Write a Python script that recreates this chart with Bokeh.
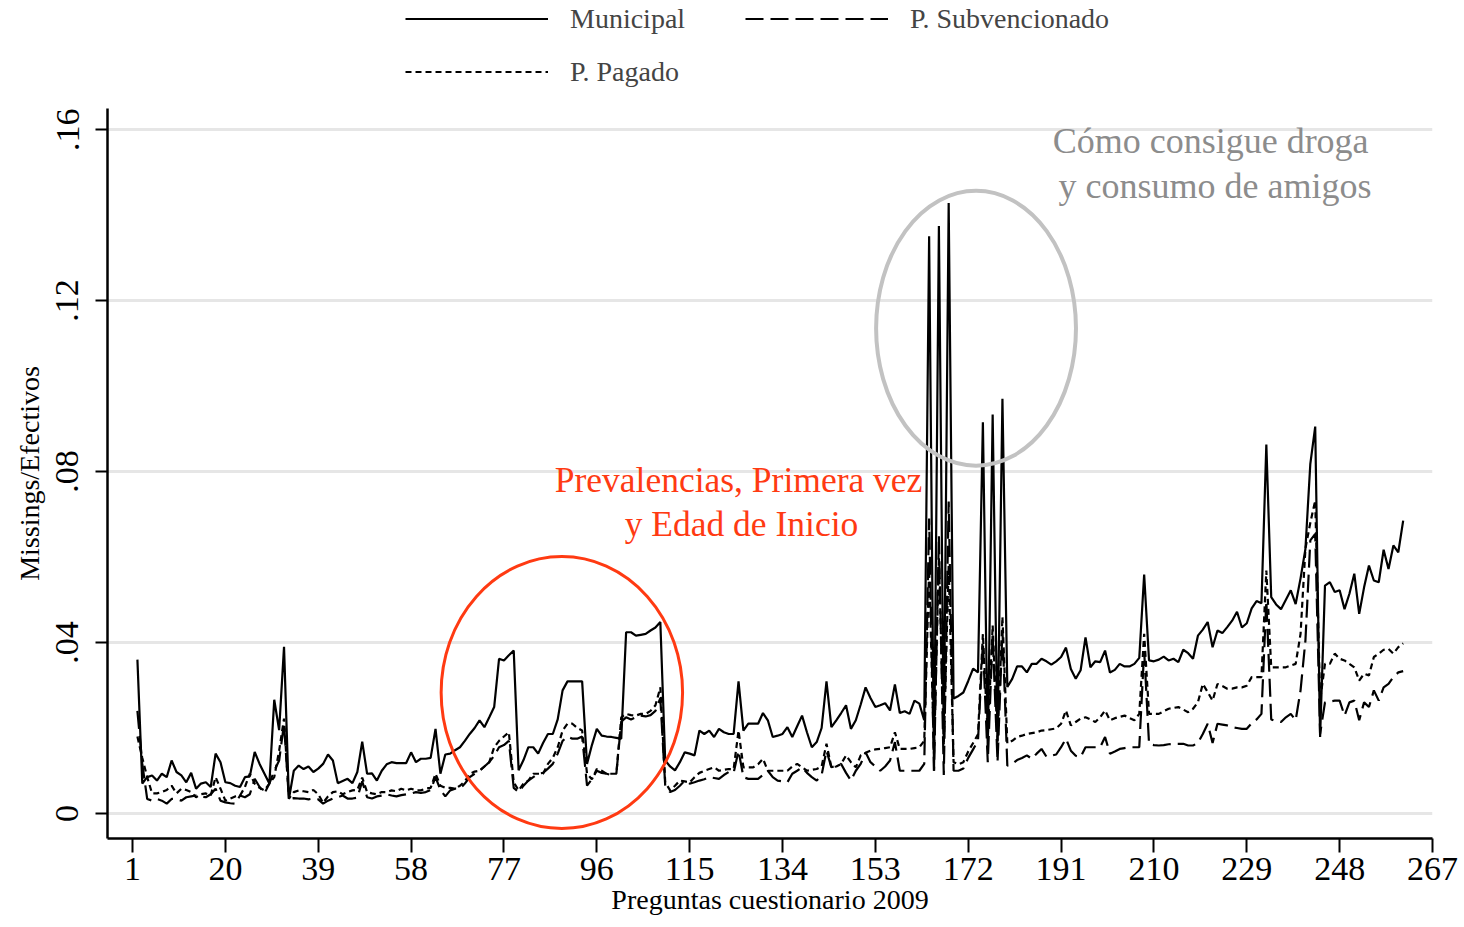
from bokeh.plotting import figure
from bokeh.layouts import column
from bokeh.models import Range1d, FixedTicker, Legend, LegendItem
from bokeh.core.properties import value
from bokeh.embed import file_html
from bokeh.resources import INLINE

# ---------------- data (values in thousandths: 36 -> 0.036) ----------------
preguntas = list(range(2, 262))

municipal_mil = [
    36, 7, 8.5, 8.9, 7.7, 9.3, 8.5, 12.4, 9.7, 8.9,
    7.3, 9.5, 5.8, 7, 7.3, 6.2, 14, 12, 7.3, 7.1,
    6.5, 6.2, 8.5, 8.7, 14.4, 11.6, 9.3, 7, 26.6, 19.5,
    39, 3.4, 10, 11.2, 10.4, 11, 9.7, 10.5, 11.6, 13.8,
    12.4, 7.1, 7.6, 8.1, 7.1, 9.7, 16.8, 9.3, 9.4, 7.7,
    10, 11.5, 12, 11.8, 11.8, 11.8, 14.3, 12, 12.8, 12.8,
    13, 19.8, 9.3, 13.8, 14, 14.8, 15.5, 17, 18.6, 20,
    21.8, 20.2, 22.5, 24.9, 36.2, 35.8, 37, 38.1, 10.1, 12.5,
    15.5, 15.5, 14, 16.5, 18.6, 18.6, 22, 28.8, 30.9, 30.9,
    30.9, 30.9, 11.6, 16, 19.8, 18.2, 18, 17.9, 17.7, 17.5,
    42.4, 42.4, 41.6, 41.8, 42, 42.8, 43.5, 44.8, 12.4, 11,
    10.1, 12, 14.3, 14, 13.6, 19.4, 18.6, 19.4, 17.9, 19.8,
    19, 18.6, 18.6, 30.9, 19.4, 21, 21, 21, 23.5, 21.8,
    17.9, 18.2, 18.6, 20.2, 17.9, 20.4, 22.9, 19, 15.5, 16.7,
    20, 30.9, 20.2, 21.8, 23.5, 25.3, 19.8, 21.8, 25.5, 29.5,
    27, 24.9, 25.3, 25.8, 24.1, 30.2, 23.5, 23.9, 23.3, 26.4,
    25.7, 21.8, 135, 10, 137.4, 17, 142.8, 26.9, 27.5, 28.3,
    31, 33.9, 33, 91.5, 15, 93.3, 16.8, 97, 29.6, 31.5,
    34.4, 34.4, 33, 35, 35, 36.2, 35.6, 34.8, 35.6, 36.6,
    38.8, 33.8, 31.5, 33.5, 41.2, 34.2, 35.6, 35.4, 38.1, 33,
    33.6, 35, 34.4, 34.4, 35, 36.4, 55.9, 35.8, 35.6, 36,
    36.7, 35.8, 36.2, 35.4, 38.3, 37.5, 36.2, 41.6, 43, 44.8,
    38.9, 42.8, 42.2, 43.6, 45.1, 47.2, 43.5, 44.5, 48, 49.7,
    49.2, 86.3, 50.6, 48.9, 47.8, 50, 52.2, 49, 55, 61.9,
    81.8, 90.5, 17.9, 53.3, 54.1, 51.8, 52.2, 47.8, 51.4, 56.1,
    46.7, 52.9, 58, 54.5, 54.1, 61.7, 57.2, 62.7, 61.1, 68.5,
]

subvencionado_mil = [
    24, 11.6, 3.4, 3, 3.4, 3, 2.3, 3.4, 3.4, 3,
    3.8, 4, 4.2, 4, 3.8, 4.5, 5.8, 3, 2.6, 2.4,
    2.3, 4.2, 3.8, 4.5, 8.1, 6.2, 4.7, 7, 10, 12.4,
    21, 3.4, 3.6, 3.5, 3.5, 3.3, 3.5, 3.3, 2.3, 3,
    3.5, 3.8, 4.2, 3.5, 3.5, 3.7, 7.5, 3.8, 3.5, 4,
    4.2, 4.5, 4.2, 4, 4.3, 4.5, 4.7, 5, 4.8, 5,
    5.5, 8.5, 5.5, 4, 5.4, 5.8, 5.8, 7, 8.5, 9.3,
    10, 11, 12, 13.5, 15.5, 16, 17, 6, 5, 6.5,
    7.7, 8.5, 9.3, 9.5, 10.5, 11.6, 14, 17, 18, 17.5,
    17.5, 18, 6.5, 8, 10, 9.5, 9.3, 9, 9.3, 21.5,
    22.5, 22, 22.5, 22.9, 22.7, 23, 24, 27, 6.5, 5,
    5.5, 6.5, 7.7, 7, 7.3, 7.7, 8, 8.5, 8.3, 8.1,
    9, 9.7, 9.5, 14.7, 8.5, 8.1, 8.1, 8.1, 9, 10,
    8.5, 7.7, 7.5, 7.3, 9.3, 10, 10.8, 9.5, 8.5, 7.7,
    9, 14.7, 10.8, 11.2, 11.6, 9.5, 7.7, 10, 11.6, 14.3,
    12, 11, 10, 11, 12.4, 16.7, 10, 10, 10, 10,
    10, 11.6, 69, 10, 65, 9, 73, 10, 10, 10.5,
    13, 15, 17, 40, 12, 42, 12, 43, 11.2, 11.6,
    12.5, 13, 13.6, 12.8, 14, 15.1, 13.3, 13.5, 13.8, 15.5,
    17.5, 14.7, 13.5, 13.2, 15.5, 15.5, 15.5, 15.5, 17.9, 14,
    14.5, 15.1, 15.3, 15.5, 15.5, 15.5, 38, 16.3, 16, 15.9,
    16, 16.2, 16.3, 16.3, 16.3, 15.9, 15.9, 16.5, 18.6, 21,
    16.5, 21, 20.8, 20.6, 20.2, 20, 19.8, 19.8, 21.1, 22,
    23.3, 49.8, 22, 21.6, 21.4, 22.5, 23.3, 21.8, 28.8, 40.5,
    63.9, 65.4, 18.6, 26, 26.2, 26.4, 26.4, 22.9, 26, 26.4,
    21.8, 26, 24.9, 28.8, 26.4, 29.5, 30.3, 31.9, 33, 33.3,
]

pagado_mil = [
    18, 13, 8.5, 4.7, 4.7, 5, 5.5, 6.5, 4.7, 5.8,
    5.5, 5, 3.8, 4.5, 4.7, 4.2, 8.5, 5.8, 3, 3.5,
    4, 4.2, 6.2, 9.3, 7, 6, 5.4, 7, 8.5, 14.7,
    22.2, 3.5, 5, 5.4, 5.2, 5, 5.5, 4.5, 2.5, 4,
    5, 5.2, 4.5, 5, 5.4, 5.5, 8.4, 5, 4.7, 4.5,
    5, 5, 5.4, 5.2, 5.8, 5.4, 5.8, 5.4, 5.4, 5.8,
    6, 9.3, 6.5, 6, 6, 5.8, 6.5, 7.5, 9.3, 9.8,
    10, 11, 12, 15.5, 17, 18, 19, 7.3, 5.4, 7,
    7.7, 9.3, 9.3, 9.3, 11.6, 13, 15.5, 19.4, 21, 21,
    20, 19.4, 9.3, 8, 10.4, 10, 9.3, 9.3, 9.3, 22.5,
    23.3, 23, 22.9, 23.3, 23.3, 24, 25.3, 29.5, 7.3, 5.4,
    6.5, 7.7, 7.5, 7.3, 8.5, 9.5, 10, 10.4, 10.8, 10,
    10.2, 10.4, 10.4, 19.4, 10.8, 10.8, 10.8, 11.5, 12.8, 10,
    10, 10, 10, 10, 11, 11.6, 10.8, 10, 10.2, 10.4,
    11, 16.3, 10.8, 11, 11.6, 13.6, 12, 10.8, 13.6, 14.2,
    14.7, 15, 15.1, 15.3, 15.5, 19, 15.1, 15.1, 15.1, 15.3,
    15.5, 17, 57, 14, 60, 16, 58, 12, 11.5, 12,
    14.5, 16.5, 18.5, 42, 18, 44, 17, 46, 16.4, 17,
    17.9, 18.2, 18.6, 18.8, 19, 19.4, 19.5, 19.7, 19.9, 21,
    24.1, 20.6, 21.4, 22.2, 22.5, 22, 21.4, 22.5, 24.1, 21.8,
    22.3, 22.6, 22.9, 22.3, 21.8, 23.3, 42, 23.3, 23.3, 23.3,
    23.9, 24.5, 24.7, 24.9, 24.3, 23.7, 24.5, 26, 30.3, 28.4,
    26.4, 30.3, 29.8, 29.2, 29.2, 29.5, 29.5, 29.9, 31.9, 31.9,
    31.9, 56.8, 34.2, 34.2, 34.2, 34.2, 34.6, 35, 42, 62,
    68, 73.2, 26.4, 35, 35, 37.4, 36.2, 35.8, 35, 34.2,
    31.1, 32.7, 32.3, 36.6, 37.4, 38.3, 38.5, 37.4, 38.9, 39.8,
]

municipal = [v / 1000 for v in municipal_mil]
subvencionado = [v / 1000 for v in subvencionado_mil]
pagado = [v / 1000 for v in pagado_mil]

series_names = ["Municipal", "P. Subvencionado", "P. Pagado"]
x_ticks = [1, 20, 39, 58, 77, 96, 115, 134, 153, 172, 191, 210, 229, 248, 267]
y_ticks = [0, 0.04, 0.08, 0.12, 0.16]
y_tick_labels = ["0", ".04", ".08", ".12", ".16"]

# annotations
red_text = ["Prevalencias, Primera vez", "y Edad de Inicio"]
red_text_x = [125.0, 125.6]
red_text_y = [0.0779, 0.0678]
red_ellipse = dict(x=88.85, y=0.0283, w=49.4, h=0.0636)

gray_text = ["Cómo consigue droga", "y consumo de amigos"]
gray_text_x = [221.6, 222.5]
gray_text_y = [0.1574, 0.1467]
gray_ellipse = dict(x=173.6, y=0.1135, w=40.9, h=0.0643)

# ---------------- styles ----------------
FONT = "Liberation Serif"
RED = "#ff3a12"
GRAY_TXT = "#8c8c8c"
GRAY_ELL = "#c2c2c2"
LW = 2.2
DASH_S = "18 7"
DASH_P = "6 4"
W = 1460

# ---------------- legend strip (top) ----------------
top = figure(width=W, height=108, output_backend="svg", toolbar_location=None,
             x_range=Range1d(0, 1), y_range=Range1d(0, 1),
             x_axis_type=None, y_axis_type=None, min_border=0)
top.outline_line_color = None
top.grid.visible = False
# legend-only renderers: their points sit outside the strip's visible range
hidden_x = [-2, -1]
hidden_y = [-2, -2]
lm = top.line(hidden_x, hidden_y, line_color="black", line_width=LW)
ls = top.line(hidden_x, hidden_y, line_color="black", line_width=LW, line_dash=DASH_S)
lp = top.line(hidden_x, hidden_y, line_color="black", line_width=LW, line_dash=DASH_P)
legend = Legend(items=[LegendItem(label=series_names[0], renderers=[lm]),
                       LegendItem(label=series_names[1], renderers=[ls]),
                       LegendItem(label=series_names[2], renderers=[lp])],
                location=(298, 20.5), orientation="horizontal", ncols=2,
                glyph_width=143, glyph_height=31, label_height=31,
                label_width=154, label_standoff=22, spacing=21,
                padding=0, margin=0, border_line_color=None,
                background_fill_alpha=0,
                label_text_font=FONT, label_text_font_size="28px")
top.add_layout(legend, "center")

# ---------------- main chart ----------------
p = figure(width=W, height=819, output_backend="svg", toolbar_location=None,
           x_range=Range1d(-4.12, 267.0), y_range=Range1d(-0.00585, 0.16491),
           min_border_left=107, min_border_right=W - 1432, min_border_top=0,
           min_border_bottom=89)
p.outline_line_color = None

p.line(preguntas, municipal, line_color="black", line_width=LW)
p.line(preguntas, subvencionado, line_color="black", line_width=LW, line_dash=DASH_S)
p.line(preguntas, pagado, line_color="black", line_width=LW, line_dash=DASH_P)

p.ellipse(x=[red_ellipse["x"]], y=[red_ellipse["y"]], width=[red_ellipse["w"]],
          height=[red_ellipse["h"]], fill_color=None, line_color=RED, line_width=3)
p.ellipse(x=[gray_ellipse["x"]], y=[gray_ellipse["y"]], width=[gray_ellipse["w"]],
          height=[gray_ellipse["h"]], fill_color=None, line_color=GRAY_ELL,
          line_width=4)

p.text(x=red_text_x, y=red_text_y, text=red_text, text_color=RED,
       text_font=value(FONT), text_font_size=value("35.5px"),
       text_align="center", text_baseline="middle")
p.text(x=gray_text_x, y=gray_text_y, text=gray_text, text_color=GRAY_TXT,
       text_font=value(FONT), text_font_size=value("36px"),
       text_align="center", text_baseline="middle")

p.xaxis.ticker = FixedTicker(ticks=x_ticks)
p.yaxis.ticker = FixedTicker(ticks=y_ticks)
p.yaxis.major_label_overrides = {t: l for t, l in zip(y_ticks, y_tick_labels)}
p.yaxis.major_label_orientation = "vertical"
for ax in (p.xaxis[0], p.yaxis[0]):
    ax.axis_line_color = "black"
    ax.axis_line_width = 2.5
    ax.major_tick_line_color = "black"
    ax.major_tick_line_width = 2
    ax.major_tick_in = 0
    ax.minor_tick_line_color = None
    ax.major_label_text_font = FONT
    ax.major_label_text_font_size = "34px"
    ax.major_label_text_color = "black"
    ax.axis_label_text_font = FONT
    ax.axis_label_text_font_size = "28px"
    ax.axis_label_text_font_style = "normal"
    ax.axis_label_text_color = "black"
p.xaxis.major_tick_out = 14
p.xaxis.major_label_standoff = 5
p.xaxis.axis_label_standoff = 1
p.yaxis.major_tick_out = 12
p.yaxis.major_label_standoff = 17
p.yaxis.axis_label_standoff = 9
p.xaxis.axis_label = "Preguntas cuestionario 2009"
p.yaxis.axis_label = "Missings/Efectivos"

p.xgrid.grid_line_color = None
p.ygrid.grid_line_color = "#e6e6e6"
p.ygrid.grid_line_width = 3

layout = column(top, p, spacing=0)

with open("out.html", "w") as f:
    f.write(file_html(layout, INLINE))
